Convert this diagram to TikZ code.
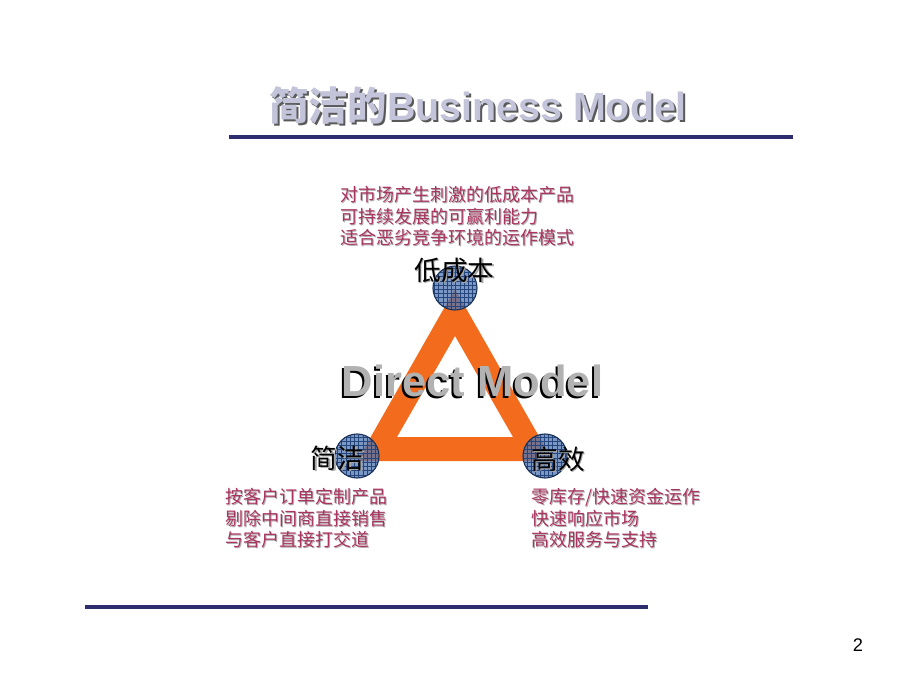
\documentclass[tikz,border=0pt]{standalone}
\usepackage{fontspec}
\setmainfont{Liberation Sans}
\newfontfamily\cjk{Noto Sans CJK SC}
\usetikzlibrary{patterns}
\definecolor{rulenavy}{HTML}{2E2E6E}
\definecolor{triorange}{HTML}{F36C1E}
\definecolor{ballblue}{HTML}{4F74AE}
\definecolor{gridblue}{HTML}{24467E}
\definecolor{notered}{HTML}{A8345F}
\definecolor{titlegray}{HTML}{C3C3DA}
\tikzset{
  rulers/.style={rulenavy, line width=2.2pt},
  note/.style={anchor=north west, align=left, inner sep=0pt, text=notered,
    font=\cjk\fontsize{12.8}{15.4}\selectfont},
  noteshadow/.style={note, text=black!30},
  vlabel/.style={inner sep=0pt, font=\cjk\fontsize{19}{22}\selectfont},
  ball/.style={circle, minimum size=1.1cm, inner sep=0pt}
}
\begin{document}
\begin{tikzpicture}[x=0.025cm, y=-0.025cm]
  \useasboundingbox (0,0) rectangle (920,690);

  % title
  \node[text=black!65, font=\bfseries\fontsize{28}{32}\selectfont] (titleshadow) at (480,107) {{\cjk 简洁的}Business Model};
  \node[text=titlegray, font=\bfseries\fontsize{28}{32}\selectfont] (title) at (478,105) {{\cjk 简洁的}Business Model};
  \draw[rulers] (229,137) -- (793,137);
  \draw[rulers] (85,607) -- (648,607);

  % the triangle
  \fill[triorange, even odd rule] (455,289) -- (357,461) -- (553,461) -- cycle
    (455,336) -- (397,437) -- (513,437) -- cycle;

  % corners
  \foreach \nm/\px/\py in {cLow/455/288, cSimple/357/456, cFast/545/456}{
    \node[ball, fill=ballblue, fill opacity=0.75] (\nm) at (\px,\py) {};
    \fill[pattern=grid, pattern color=gridblue] (\nm.center) circle (21.5);
    \draw[gridblue!70!black, line width=0.8pt] (\nm.center) circle (22);
  }

  % Direct Model
  \node[text=black, font=\bfseries\fontsize{31}{36}\selectfont] (dmshadow) at (470.5,382.5) {Direct Model};
  \node[text=black!30, font=\bfseries\fontsize{31}{36}\selectfont] (dm) at (472.5,381) {Direct Model};

  % corner labels
  \node[vlabel, text=black!35] at (456,271.5) {低成本};
  \node[vlabel] (low) at (454.5,270) {低成本};
  \node[vlabel, text=black!35] at (339,459.5) {简洁};
  \node[vlabel] (simple) at (337.5,458) {简洁};
  \node[vlabel, text=black!35] at (559.5,460.5) {高效};
  \node[vlabel] (fast) at (558,459) {高效};

  % notes
  \node[noteshadow] at (341,187) {对市场产生刺激的低成本产品\\可持续发展的可赢利能力\\适合恶劣竞争环境的运作模式};
  \node[note] (lowtext) at (340,186) {对市场产生刺激的低成本产品\\可持续发展的可赢利能力\\适合恶劣竞争环境的运作模式};
  \node[noteshadow] at (226,489) {按客户订单定制产品\\剔除中间商直接销售\\与客户直接打交道};
  \node[note] (simpletext) at (225,488) {按客户订单定制产品\\剔除中间商直接销售\\与客户直接打交道};
  \node[noteshadow] at (532,489) {零库存/快速资金运作\\快速响应市场\\高效服务与支持};
  \node[note] (fasttext) at (531,488) {零库存/快速资金运作\\快速响应市场\\高效服务与支持};

  \node[font=\fontsize{13}{15}\selectfont] (pagenum) at (858,645) {2};
\end{tikzpicture}
\end{document}
